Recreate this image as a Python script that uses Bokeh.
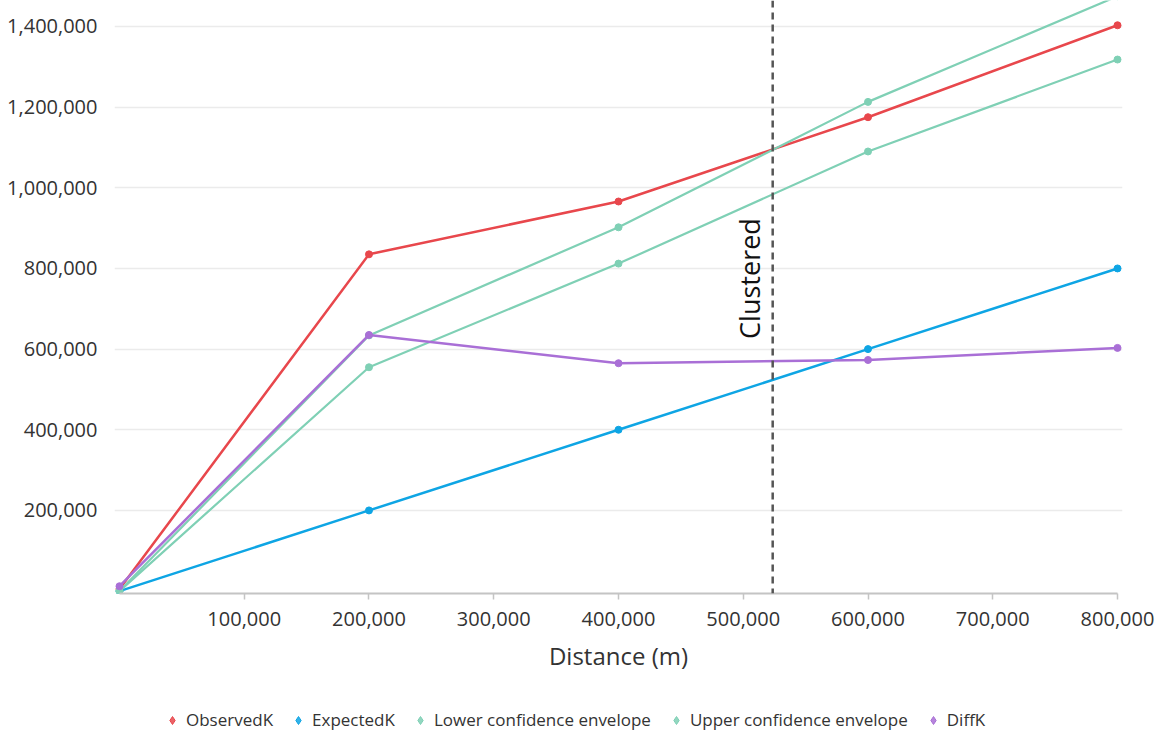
import math
from bokeh.plotting import figure
from bokeh.layouts import column
from bokeh.models import (Range1d, FixedTicker, NumeralTickFormatter, Span, Label,
                          Legend, LegendItem, ColumnDataSource)
from bokeh.embed import file_html
from bokeh.resources import INLINE

distance = [0, 200000, 400000, 600000, 800000]
observed_k = [5000, 835000, 966000, 1175000, 1403000]
expected_k = [0, 200000, 400000, 600000, 800000]
lower_env = [0, 555000, 812000, 1090000, 1318000]
upper_env = [0, 634000, 902000, 1213000, 1475000]
diff_k = [12000, 635000, 565000, 573000, 603000]

x_ticks = [100000, 200000, 300000, 400000, 500000, 600000, 700000, 800000]
y_ticks = [200000, 400000, 600000, 800000, 1000000, 1200000, 1400000]
cluster_distance = 523600
cluster_label = "Clustered"
x_label = "Distance (m)"

series = [
    ("ObservedK", observed_k, "#e8474c", 2.5),
    ("ExpectedK", expected_k, "#0ea5e4", 2.5),
    ("Lower confidence envelope", lower_env, "#7fd0b5", 2.2),
    ("Upper confidence envelope", upper_env, "#7fd0b5", 2.2),
    ("DiffK", diff_k, "#a96fd6", 2.5),
]

FONT = "Open Sans"
TXT = "#333333"

p = figure(width=1160, height=690, output_backend="svg", toolbar_location=None,
           x_range=Range1d(-4000, 804000), y_range=Range1d(-6000, 1464400),
           min_border_left=114, min_border_right=38, min_border_top=0,
           min_border_bottom=97)
p.outline_line_color = None
p.background_fill_color = "white"
p.border_fill_color = "white"

# legend strip (separate small figure below the chart)
lg = figure(width=1160, height=43, output_backend="svg", toolbar_location=None,
            x_range=Range1d(-20, -10), y_range=Range1d(-20, -10), min_border=0,
            min_border_left=0, min_border_right=0, min_border_top=0, min_border_bottom=0)
lg.axis.visible = False
lg.grid.grid_line_color = None
lg.outline_line_color = None

items = []
for name, vals, color, lw in series:
    src = ColumnDataSource(dict(x=distance, y=vals))
    p.line("x", "y", source=src, line_color=color, line_width=lw)
    p.scatter("x", "y", source=src, size=7, fill_color=color, line_color=color)
    r = lg.scatter("x", "y", source=src, size=10, fill_color=color, line_color=color,
                   fill_alpha=0.85, marker="diamond")
    items.append(LegendItem(label=name, renderers=[r]))

# axes
p.xaxis.ticker = FixedTicker(ticks=x_ticks)
p.yaxis.ticker = FixedTicker(ticks=y_ticks)
p.xaxis.formatter = NumeralTickFormatter(format="0,0")
p.yaxis.formatter = NumeralTickFormatter(format="0,0")
p.xaxis.bounds = (0, 800000)
p.xaxis.axis_line_color = "#c4c4c4"
p.xaxis.axis_line_width = 2
p.xaxis.major_tick_line_color = "#c4c4c4"
p.xaxis.major_tick_line_width = 1.5
p.xaxis.major_tick_out = 6
p.xaxis.major_tick_in = 0
p.xaxis.minor_tick_line_color = None
p.yaxis.axis_line_color = None
p.yaxis.major_tick_line_color = None
p.yaxis.minor_tick_line_color = None
for ax in (p.xaxis, p.yaxis):
    ax.major_label_text_font = FONT
    ax.major_label_text_font_size = "20px"
    ax.major_label_text_color = TXT
p.xaxis.major_label_standoff = 12
p.yaxis.major_label_standoff = 11
p.xaxis.axis_label = x_label
p.xaxis.axis_label_text_font = FONT
p.xaxis.axis_label_text_font_size = "24px"
p.xaxis.axis_label_text_font_style = "normal"
p.xaxis.axis_label_text_color = TXT
p.xaxis.axis_label_standoff = 10

p.xgrid.grid_line_color = None
p.ygrid.grid_line_color = "#ebebeb"
p.ygrid.grid_line_width = 1.5

# cluster line
p.add_layout(Span(location=cluster_distance, dimension="height", line_color="#555555",
                  line_width=2.5, line_dash="7 5"))
p.add_layout(Label(x=cluster_distance, y=775000, text=cluster_label, angle=math.pi / 2,
                   text_align="center", text_baseline="bottom", x_offset=-5,
                   text_font=FONT, text_font_size="27px", text_color="#111111"))

legend = Legend(items=items, orientation="horizontal", location=(48, 2),
                label_text_font=FONT, label_text_font_size="17px", label_text_color=TXT,
                glyph_width=20, glyph_height=20, label_standoff=4, spacing=15,
                border_line_color=None, background_fill_alpha=0, margin=0, padding=4)
lg.add_layout(legend, "center")

open("out.html", "w").write(file_html(column(p, lg, spacing=0), INLINE))
